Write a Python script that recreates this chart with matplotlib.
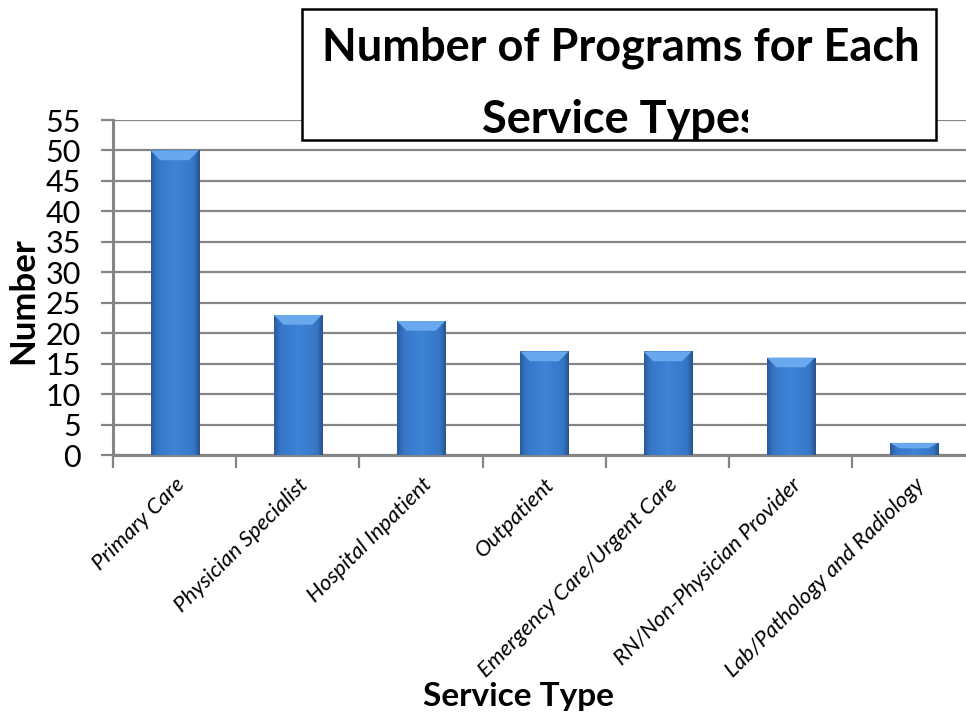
import numpy as np
import matplotlib
matplotlib.use("Agg")
import matplotlib.pyplot as plt
import matplotlib.colors as mcolors
import matplotlib.patches as mpatches
from matplotlib.transforms import Bbox, TransformedBbox

# Data
service_types = ["Primary Care", "Physician Specialist", "Hospital Inpatient",
                 "Outpatient", "Emergency Care/Urgent Care",
                 "RN/Non-Physician Provider", "Lab/Pathology and Radiology"]
program_counts = [50, 23, 22, 17, 17, 16, 2]
y_ticks = list(range(0, 60, 5))

plt.rcParams['font.family'] = ['Lato', 'DejaVu Sans']

fig = plt.figure(figsize=(9.66, 7.16), dpi=100)
ax = fig.add_axes([0.117, 0.3645, 0.893, 0.4679])

x = np.arange(len(service_types))
bars = ax.bar(x, program_counts, width=0.39, color="#3a7bcc", zorder=3)

# cylinder-like shading on each bar
shade = mcolors.LinearSegmentedColormap.from_list(
    "shade", [(0.0, "#2a5a9e"), (0.12, "#3676c6"), (0.5, "#3e84d8"),
              (0.88, "#3676c6"), (1.0, "#28558f")])
grad = np.linspace(0, 1, 64).reshape(1, -1)
for b in bars:
    x0, w, h = b.get_x(), b.get_width(), b.get_height()
    im = ax.imshow(grad, extent=[x0, x0 + w, 0, h], aspect='auto', cmap=shade,
                   zorder=4)
    im.set_clip_path(b)
    bev = min(1.6, h * 0.45)
    top = mpatches.Polygon([[x0, h], [x0 + w, h], [x0 + w * 0.8, h - bev],
                            [x0 + w * 0.2, h - bev]], closed=True,
                           facecolor="#6aa8ee", edgecolor="none", zorder=5)
    ax.add_patch(top)

ax.set_xlim(-0.5, len(service_types) - 0.5)
ax.set_ylim(0, 55)
ax.set_yticks(y_ticks)
ax.set_yticklabels([str(v) for v in y_ticks], fontsize=22)
ax.yaxis.grid(True, color="#858585", linewidth=1.6, zorder=0)
ax.set_axisbelow(True)

ax.set_xticks(x)
ax.set_xticklabels(service_types, rotation=45, ha='right', va='top',
                   rotation_mode='anchor', fontsize=16, style='italic')
ax.tick_params(axis='x', which='major', length=0, pad=14)
ax.set_xticks(np.arange(-0.5, len(service_types), 1.0), minor=True)
ax.tick_params(axis='x', which='minor', length=9, width=1.6, color="#858585")
ax.tick_params(axis='y', length=9, width=1.6, color="#858585", pad=14)

for s in ['top', 'right']:
    ax.spines[s].set_visible(False)
for s in ['left', 'bottom']:
    ax.spines[s].set_color("#858585")
    ax.spines[s].set_linewidth(2.2)

fig.text(0.024, 0.58, "Number", rotation=90, ha='center', va='center',
         fontsize=25, fontweight='bold')
fig.text(0.537, 0.027, "Service Type", ha='center', va='center',
         fontsize=24, fontweight='bold')

# title box
box = mpatches.Rectangle((0.313, 0.804), 0.656, 0.184, transform=fig.transFigure,
                         facecolor='white', edgecolor='black', linewidth=1.8,
                         zorder=10)
fig.patches.append(box)
fig.text(0.643, 0.934, "Number of Programs for Each", ha='center', va='center',
         fontsize=32.5, fontweight='bold', zorder=11)
t2 = fig.text(0.643, 0.832, "Service Types", ha='center', va='center',
              fontsize=32.5, fontweight='bold', zorder=11)
# the box in the original cuts off the end of the second line
t2.set_clip_box(TransformedBbox(Bbox([[0.313, 0.804], [0.774, 0.988]]),
                                fig.transFigure))

fig.savefig("out.png", dpi=100)
